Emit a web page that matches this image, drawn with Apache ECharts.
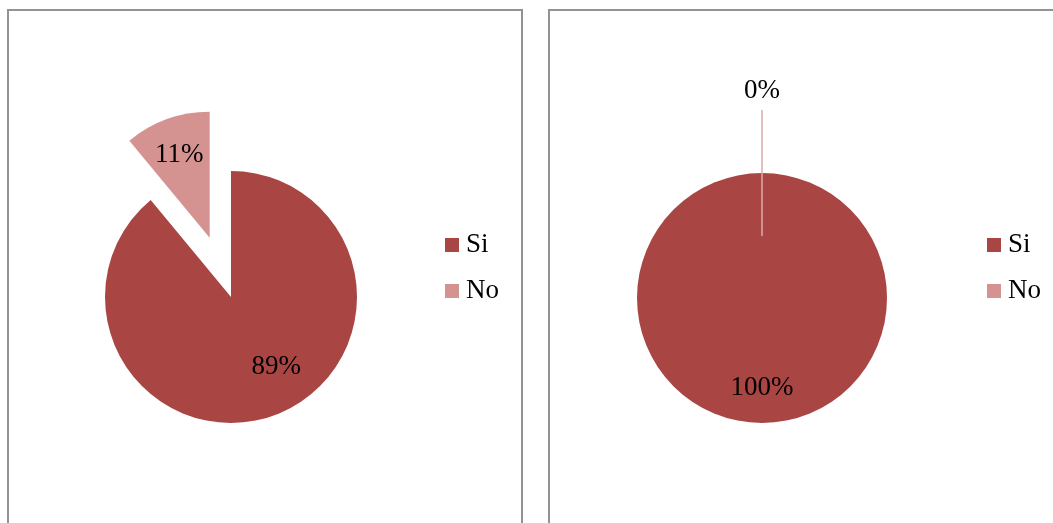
<!DOCTYPE html>
<html>
<head>
<meta charset="utf-8">
<script src="https://cdn.jsdelivr.net/npm/echarts@6/dist/echarts.min.js"></script>
<style>
  html, body { margin: 0; padding: 0; background: #fff; }
  #chart { width: 1053px; height: 523px; }
</style>
</head>
<body>
<div id="chart"></div>
<script>
// Answer categories and the share (%) for each of the two questions
const categories = ['Si', 'No'];
const leftValues = [89, 11];
const rightValues = [100, 0];

const colors = { Si: '#A94644', No: '#D49391' };
const FONT = 'Liberation Serif';
const FONT_SIZE = 27;

// A zero-width slice is only visible through its outline
function pieData(values) {
  return categories.map((name, i) => ({
    name: name,
    value: values[i],
    selected: name === 'No',
    itemStyle: {
      color: colors[name],
      borderColor: '#DDAAA9',
      borderWidth: values[i] === 0 ? 1.5 : 0
    }
  }));
}

// Nudges for the inside labels, by data index
const leftLabelShift = [{ dx: 23, dy: 8 }, { dx: -8, dy: -21 }];
const rightLabelShift = [{ dx: 0, dy: 24 }, { dx: 0, dy: -79 }];

function pieSeries(values, center, radius, shift) {
  return {
    type: 'pie',
    center: center,
    radius: radius,
    startAngle: 90,
    clockwise: true,
    selectedMode: 'multiple',
    selectedOffset: radius / 2,
    avoidLabelOverlap: false,
    minShowLabelAngle: 0,
    label: {
      show: true,
      position: 'inside',
      formatter: '{d}%',
      color: '#000',
      fontFamily: FONT,
      fontSize: FONT_SIZE
    },
    labelLine: { show: false },
    labelLayout: function (p) { return shift[p.dataIndex]; },
    emphasis: { disabled: true },
    data: pieData(values)
  };
}

function legend(left) {
  return {
    orient: 'vertical',
    left: left,
    top: 226,
    icon: 'rect',
    itemWidth: 14,
    itemHeight: 14,
    itemGap: 18,
    selectedMode: false,
    itemStyle: { borderWidth: 0 },
    textStyle: { color: '#000', fontFamily: FONT, fontSize: FONT_SIZE, lineHeight: 28, padding: [0, 0, 0, 2] },
    data: categories
  };
}

const chart = echarts.init(document.getElementById('chart'), null, { renderer: 'canvas' });
chart.setOption({
  animation: false,
  backgroundColor: '#fff',
  legend: [legend(440), legend(982)],
  graphic: [
    { type: 'rect', shape: { x: 8, y: 10, width: 514, height: 600 },
      style: { fill: 'none', stroke: '#939393', lineWidth: 2 }, silent: true, z: -1 },
    { type: 'rect', shape: { x: 549, y: 10, width: 600, height: 600 },
      style: { fill: 'none', stroke: '#939393', lineWidth: 2 }, silent: true, z: -1 }
  ],
  series: [
    pieSeries(leftValues, [231, 297], 126, leftLabelShift),
    pieSeries(rightValues, [762, 298], 125, rightLabelShift)
  ]
});
</script>
</body>
</html>
